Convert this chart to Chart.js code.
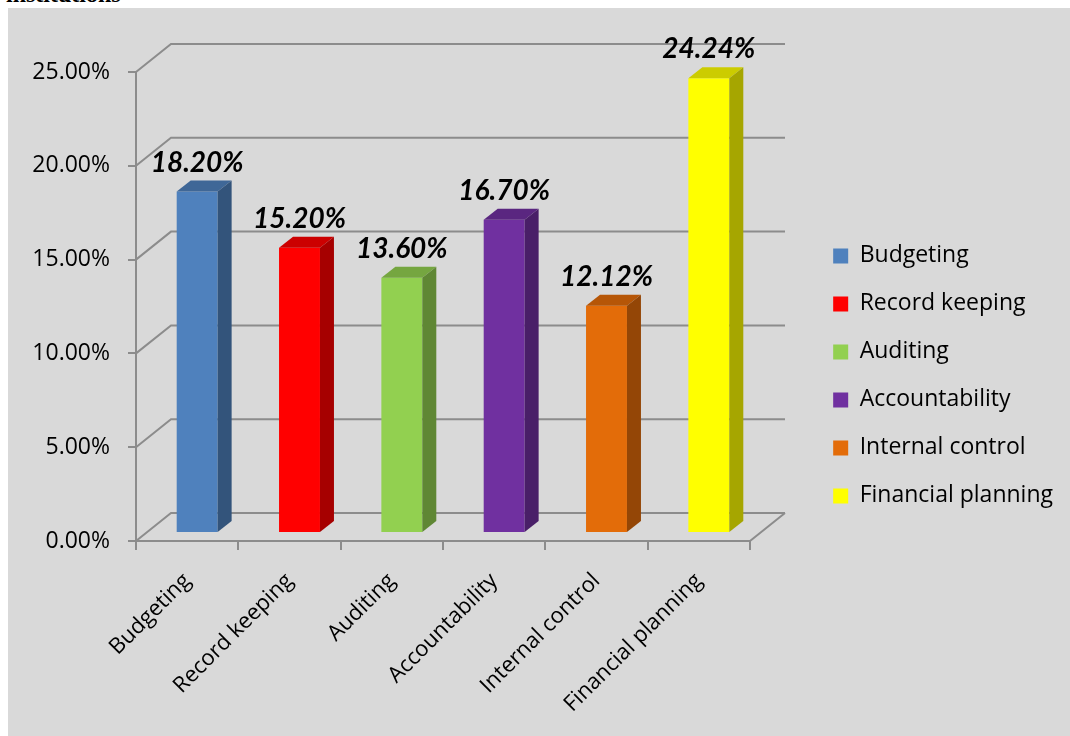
<!DOCTYPE html>
<html>
<head>
<meta charset="utf-8">
<script src="https://cdn.jsdelivr.net/npm/chart.js@4.4.0/dist/chart.umd.min.js"></script>
<style>
  html, body { margin: 0; padding: 0; background: #fff; }
  body { width: 1070px; height: 736px; position: relative; overflow: hidden; }
  #cut { position: absolute; left: 6px; top: -19px; font: bold 24px 'Liberation Serif', serif; color: #000; }
  #panel { position: absolute; left: 8px; top: 8px; width: 1062px; height: 728px; background: #d9d9d9; }
  #panel canvas { display: block; }
</style>
</head>
<body>
<div id="cut">institutions</div>
<div id="panel"><canvas id="theChart" width="1062" height="728"></canvas></div>
<script>
const categories = ['Budgeting', 'Record keeping', 'Auditing', 'Accountability', 'Internal control', 'Financial planning'];
const shares = [18.20, 15.20, 13.60, 16.70, 12.12, 24.24]; // percent
const barColors = ['#4f81bd', '#ff0000', '#92d050', '#7030a0', '#e36c09', '#ffff00'];
const yTicks = [0, 5, 10, 15, 20, 25];

const FONT = "'Open Sans'";
const LABEL_FONT = 'Lato';
const WALL = { dx: 35, dy: -28 };   // depth of the floor / back wall
const FRONT = { dx: 10, dy: -8 };   // bars sit ~0.3 into the depth
const DEPTH = { dx: 14, dy: -11 };  // depth of one bar
const PLOT_RIGHT = 742;             // where the floor front edge should end
const PAD_RIGHT = 7;

function shade(hex, f) {
  const n = parseInt(hex.slice(1), 16);
  const r = Math.round(((n >> 16) & 255) * f), g = Math.round(((n >> 8) & 255) * f), b = Math.round((n & 255) * f);
  return `rgb(${r},${g},${b})`;
}

// back wall + floor lines, then the extra faces of each bar
const box3d = {
  id: 'box3d',
  beforeDatasetsDraw(chart) {
    const { ctx, chartArea: a, scales: { y } } = chart;
    ctx.save();
    ctx.strokeStyle = '#8c8c8c';
    ctx.lineWidth = 2;
    ctx.beginPath();
    for (const v of yTicks) {
      const py = y.getPixelForValue(v);
      ctx.moveTo(a.left, py);
      ctx.lineTo(a.left + WALL.dx, py + WALL.dy);
      ctx.lineTo(a.right + WALL.dx, py + WALL.dy);
    }
    ctx.moveTo(a.right, a.bottom);
    ctx.lineTo(a.right + WALL.dx, a.bottom + WALL.dy);
    ctx.stroke();
    ctx.restore();
    // front faces are drawn by chart.js, pushed back into the box
    ctx.save();
    ctx.translate(FRONT.dx, FRONT.dy);
  },
  afterDatasetsDraw(chart) {
    const { ctx } = chart;
    ctx.restore();
    const values = chart.data.datasets[0].data;
    chart.getDatasetMeta(0).data.forEach((bar, i) => {
      const { x, y, base, width } = bar.getProps(['x', 'y', 'base', 'width'], true);
      const l = x - width / 2 + FRONT.dx, r = x + width / 2 + FRONT.dx;
      const t = y + FRONT.dy, b = base + FRONT.dy;
      ctx.save();
      ctx.fillStyle = shade(barColors[i], 0.8);
      ctx.beginPath();
      ctx.moveTo(l, t);
      ctx.lineTo(l + DEPTH.dx, t + DEPTH.dy);
      ctx.lineTo(r + DEPTH.dx, t + DEPTH.dy);
      ctx.lineTo(r, t);
      ctx.closePath();
      ctx.fill();
      ctx.fillStyle = shade(barColors[i], 0.65);
      ctx.beginPath();
      ctx.moveTo(r, t);
      ctx.lineTo(r + DEPTH.dx, t + DEPTH.dy);
      ctx.lineTo(r + DEPTH.dx, b + DEPTH.dy);
      ctx.lineTo(r, b);
      ctx.closePath();
      ctx.fill();
      ctx.fillStyle = '#000';
      ctx.font = `italic bold 28px ${LABEL_FONT}`;
      ctx.textAlign = 'center';
      ctx.textBaseline = 'alphabetic';
      ctx.fillText(`${values[i].toFixed(2)}%`, x + FRONT.dx, t - 20);
      ctx.restore();
    });
  }
};

const cfg = {
  type: 'bar',
  data: {
    labels: categories,
    datasets: [{
      data: shares,
      backgroundColor: barColors,
      borderWidth: 0,
      barPercentage: 0.4,
      categoryPercentage: 1.0
    }]
  },
  options: {
    responsive: false,
    devicePixelRatio: 1,
    animation: false,
    layout: { padding: { top: 64, left: 0, right: PAD_RIGHT, bottom: 0 } },
    scales: {
      x: {
        offset: true,
        grid: { offset: true, drawOnChartArea: false, drawTicks: true, tickLength: 9, color: '#8c8c8c', lineWidth: 2 },
        border: { display: true, color: '#8c8c8c', width: 2 },
        ticks: { color: '#000', font: { family: FONT, size: 22 }, maxRotation: 45, minRotation: 45, autoSkip: false, padding: 18 },
        afterFit(scale) { scale.height = 195; }
      },
      y: {
        min: 0,
        max: 25,
        grid: { drawOnChartArea: false, drawTicks: true, tickLength: 8, color: '#8c8c8c', lineWidth: 2 },
        border: { display: true, color: '#8c8c8c', width: 2 },
        ticks: { stepSize: 5, color: '#000', font: { family: FONT, size: 23 }, padding: 18, callback: v => `${v.toFixed(2)}%` },
        afterFit(scale) { scale.width = 128; }
      },
      // hidden axis that only keeps a gap between the plot and the legend
      gap: {
        type: 'linear',
        position: 'right',
        display: false,
        afterFit(scale) { scale.width = scale.chart.width - PAD_RIGHT - scale.chart.legend.width - PLOT_RIGHT; }
      }
    },
    plugins: {
      legend: {
        position: 'right',
        align: 'start',
        onClick: null,
        // empty title only pushes the entries down to the middle
        title: { display: true, text: '', font: { size: 12 }, padding: { top: 133, bottom: 0 } },
        labels: {
          boxWidth: 15,
          boxHeight: 15,
          padding: 25,
          color: '#000',
          font: { family: FONT, size: 23 },
          generateLabels: () => categories.map((c, i) => ({
            text: c, fillStyle: barColors[i], strokeStyle: barColors[i], fontColor: '#000',
            lineWidth: 0, hidden: false, index: i
          }))
        }
      },
      tooltip: { enabled: false }
    }
  },
  plugins: [box3d]
};

const myChart = new Chart(document.getElementById('theChart').getContext('2d'), cfg);
</script>
</body>
</html>
